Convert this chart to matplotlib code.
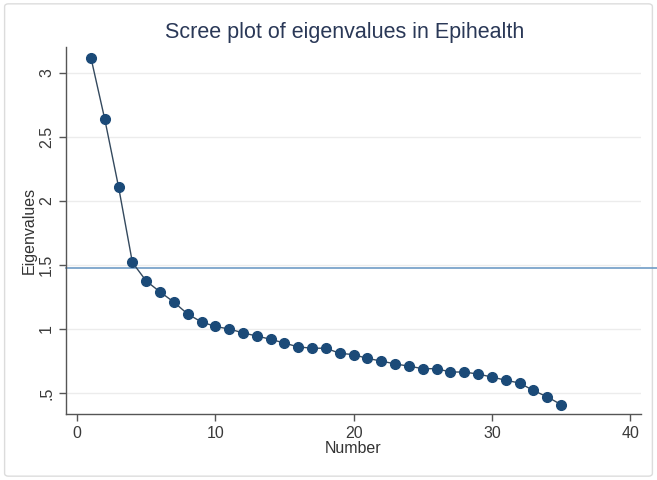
import matplotlib
matplotlib.use("Agg")
import matplotlib.pyplot as plt
from matplotlib.patches import FancyBboxPatch

plt.rcParams['font.family'] = ['Liberation Sans', 'DejaVu Sans']

number = list(range(1, 36))
eigenvalues = [3.12, 2.64, 2.11, 1.52, 1.375, 1.29, 1.21, 1.117, 1.055, 1.02,
               1.0, 0.97, 0.945, 0.92, 0.89, 0.86, 0.85, 0.85, 0.81, 0.80,
               0.77, 0.75, 0.727, 0.71, 0.69, 0.69, 0.664, 0.664, 0.648, 0.625,
               0.60, 0.578, 0.52, 0.47, 0.41]
ref_value = 1.48
xticks = [0, 10, 20, 30, 40]
yticks = [0.5, 1, 1.5, 2, 2.5, 3]
yticklabels = ['.5', '1', '1.5', '2', '2.5', '3']

fig = plt.figure(figsize=(6.57, 4.8), dpi=100)
fig.patch.set_facecolor('white')
border = FancyBboxPatch((0.007, 0.008), 0.986, 0.984, boxstyle="round,pad=0,rounding_size=0.006",
                        transform=fig.transFigure, facecolor='white', edgecolor='#dcdcdc',
                        linewidth=1.0, zorder=-10)
fig.patches.append(border)

ax = fig.add_axes([0.1005, 0.1375, 0.875, 0.7645])
ax.set_facecolor('white')
ax.set_xlim(-0.8, 40.78)
ax.set_ylim(0.336, 3.203)

for yv in yticks:
    ax.axhline(yv, color='#ececec', linewidth=1.0, zorder=0)

ax.plot(number, eigenvalues, color='#34495e', linewidth=1.0, zorder=2,
        marker='o', markersize=7.0, markerfacecolor='#1b4a78', markeredgecolor='#1b4a78')

ax.plot([0, 1.04], [ref_value, ref_value], transform=ax.get_yaxis_transform(),
        color='#6f9cc6', linewidth=1.2, clip_on=False, zorder=1)

ax.spines['top'].set_visible(False)
ax.spines['right'].set_visible(False)
for s in ['left', 'bottom']:
    ax.spines[s].set_color('#555555')
    ax.spines[s].set_linewidth(1.0)

ax.set_xticks(xticks)
ax.set_yticks(yticks)
ax.set_yticklabels(yticklabels, rotation=90, va='center')
ax.tick_params(axis='both', colors='#555555', labelcolor='#3a3a3a', labelsize=11.5,
               length=5, width=1.0)

ax.set_xlabel('Number', fontsize=11.5, color='#333333', labelpad=0)
ax.set_ylabel('Eigenvalues', fontsize=11.5, color='#333333', labelpad=2)
fig.text(0.525, 0.933, 'Scree plot of eigenvalues in Epihealth', ha='center', va='center',
         fontsize=15.5, color='#2a3857')

fig.savefig('out.png', dpi=100)
